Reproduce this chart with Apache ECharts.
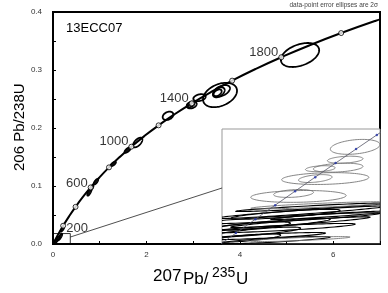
<!DOCTYPE html>
<html>
<head>
<meta charset="utf-8">
<script src="https://cdn.jsdelivr.net/npm/echarts@6/dist/echarts.min.js"></script>
<style>html,body{margin:0;padding:0;background:#fff}#c{width:388px;height:293px}</style>
</head>
<body>
<div id="c"></div>
<script>
// Concordia curve, 0–2200 Ma every 100 Ma: [207Pb/235U, 206Pb/238U]
var concordia = [
  [0,0],[0.1035,0.01563],[0.2177,0.03151],[0.3438,0.04764],[0.4828,0.06402],
  [0.6362,0.08065],[0.8057,0.09754],[0.9926,0.11470],[1.1987,0.13213],[1.4264,0.14982],
  [1.6774,0.16780],[1.9546,0.18605],[2.2603,0.20459],[2.5978,0.22341],[2.9703,0.24254],
  [3.3812,0.26196],[3.8348,0.28168],[4.3348,0.30171],[4.8869,0.32205],[5.4962,0.34271],
  [6.1685,0.36369],[6.9104,0.38500],[7.7291,0.40676]
];
// Concordia age marks (Ma)
var tickAges = [200,400,600,800,1000,1200,1400,1600,1800,2000];
var tickPoints = [
  [0.2177,0.03151],[0.4828,0.06402],[0.8057,0.09754],[1.1987,0.13213],[1.6774,0.16780],
  [2.2603,0.20459],[2.9703,0.24254],[3.8348,0.28168],[4.8869,0.32205],[6.1685,0.36369]
];
var labelledAges = [200,600,1000,1400,1800];
// Analyses: [x, y, 2sigma x, 2sigma y, rho]
var openEllipses = [
  [5.288,0.3259,0.41,0.0207,0.4],
  [3.575,0.2569,0.364,0.021,0.35],
  [3.61,0.264,0.178,0.010,0.45],
  [3.55,0.2615,0.125,0.0086,0.45],
  [3.52,0.2605,0.09,0.006,0.5],
  [3.136,0.2523,0.132,0.0060,0.3],
  [2.969,0.2397,0.107,0.0060,0.3],
  [2.95,0.2405,0.08,0.0045,0.4],
  [2.462,0.221,0.114,0.0072,0.3],
  [1.813,0.175,0.10,0.0083,0.6]
];
var filledEllipses = [
  [1.598,0.162,0.07,0.005,0.7],
  [1.29,0.138,0.06,0.004,0.7],
  [0.92,0.1074,0.05,0.005,0.7],
  [0.83,0.097,0.04,0.005,0.7],
  [0.78,0.090,0.05,0.007,0.7],
  [0.20,0.025,0.04,0.004,0.8],
  [0.15,0.012,0.05,0.006,0.8],
  [0.09,0.008,0.05,0.005,0.8],
  [0.06,0.004,0.04,0.004,0.8]
];
var zoomBox = [[0.37,0.018]];
var connector = [[0.37,0.012],[3.62,0.0966]];
// Inset: young concordia (0–90 Ma every 10 Ma)
var insetConcordia = [
  [0,0],[0.009897,0.0015525],[0.019892,0.0031072],[0.029986,0.0046646],[0.040180,0.0062243],
  [0.050475,0.0077864],[0.060872,0.0093510],[0.071371,0.010918],[0.081975,0.012487],[0.092683,0.014059]
];
var insetTicks = insetConcordia.slice(1, 9);
var insetGrayEllipses = [
  [0.0709,0.01116,0.0127,0.00083,0.3],
  [0.0658,0.00973,0.0091,0.00039,0.3],
  [0.0622,0.00884,0.0127,0.00050,0.3],
  [0.0556,0.00763,0.0223,0.00066,0.2],
  [0.0505,0.00763,0.0086,0.00044,0.4],
  [0.0531,0.00873,0.0076,0.00033,0.3],
  [0.0419,0.00564,0.0244,0.00066,0.15],
  [0.0394,0.00597,0.0102,0.00044,0.3],
  [0.0531,0.00465,0.0356,0.000398,0.832],
  [0.0429,0.00089,0.0254,0.000276,0.8]
];
var insetBlackEllipses = [
  [0.0429,0.00387,0.0432,0.000698,0.949],
  [0.0378,0.00321,0.0457,0.000617,0.894],
  [0.0277,0.00255,0.0305,0.000644,0.857],
  [0.0328,0.00211,0.0381,0.000521,0.848],
  [0.0201,0.00167,0.0229,0.000552,0.8],
  [0.0252,0.00122,0.0305,0.000398,0.832],
  [0.0429,0.00277,0.0356,0.000595,0.928],
  [0.0175,0.00233,0.0203,0.000468,0.707],
  [0.0480,0.00443,0.0381,0.000472,0.937],
  [0.0302,0.00078,0.0279,0.000398,0.832],
  [0.0582,0.00354,0.0305,0.000472,0.937],
  [0.0150,0.00100,0.0178,0.000468,0.707],
  [0.0353,0.00365,0.0279,0.000552,0.8]
];

var FONT = "'Liberation Sans', Arial, sans-serif";

function ellipseRenderer(style) {
  return function (params, api) {
    var cx = api.value(0), cy = api.value(1), sx = api.value(2), sy = api.value(3), r = api.value(4);
    var q = Math.sqrt(1 - r * r);
    var pts = [];
    for (var i = 0; i < 90; i++) {
      var t = i / 90 * 2 * Math.PI;
      pts.push(api.coord([cx + sx * Math.cos(t), cy + sy * (r * Math.cos(t) + q * Math.sin(t))]));
    }
    var cs = params.coordSys;
    return {
      type: 'group',
      clipPath: { type: 'rect', shape: { x: cs.x, y: cs.y, width: cs.width, height: cs.height } },
      children: [{ type: 'polygon', shape: { points: pts }, style: style }]
    };
  };
}

var tickData = tickPoints.map(function (p, i) {
  var age = tickAges[i];
  var item = { value: p };
  if (labelledAges.indexOf(age) >= 0) {
    item.label = {
      show: true, formatter: String(age),
      position: age === 200 ? 'right' : 'left',
      distance: 0,
      offset: age === 200 ? [0, 3] : (age === 600 ? [0, -4] : [0, -5])
    };
  }
  return item;
});

var chart = echarts.init(document.getElementById('c'), null, { renderer: 'canvas' });
chart.setOption({
  animation: false,
  backgroundColor: '#fff',
  grid: [
    { left: 53, top: 12, width: 327, height: 232, show: true, borderColor: '#000', borderWidth: 2, backgroundColor: 'transparent' },
    { left: 222, top: 129, width: 158, height: 115, show: true, borderColor: '#999', borderWidth: 1, backgroundColor: '#fff' }
  ],
  xAxis: [
    {
      gridIndex: 0, type: 'value', min: 0, max: 7, interval: 1,
      axisLine: { lineStyle: { color: '#000', width: 1.5 } },
      axisTick: { inside: true, length: 3, lineStyle: { color: '#000' } },
      splitLine: { show: false },
      axisLabel: {
        color: '#333', fontSize: 8, fontFamily: FONT, margin: 7,
        formatter: function (v) { return v % 2 === 0 ? String(v) : ''; }
      }
    },
    { gridIndex: 1, type: 'value', min: 0.0028, max: 0.0836, show: false }
  ],
  yAxis: [
    {
      gridIndex: 0, type: 'value', min: 0, max: 0.4, interval: 0.05,
      axisLine: { lineStyle: { color: '#000', width: 1.5 } },
      axisTick: { inside: true, length: 3, lineStyle: { color: '#000' } },
      splitLine: { show: false },
      axisLabel: {
        color: '#333', fontSize: 8, fontFamily: FONT, margin: 11,
        formatter: function (v) {
          var k = v * 10;
          return Math.abs(k - Math.round(k)) < 1e-6 ? v.toFixed(1) : '';
        }
      }
    },
    { gridIndex: 1, type: 'value', min: 0.00034, max: 0.01315, show: false }
  ],
  series: [
    {
      type: 'line', xAxisIndex: 0, yAxisIndex: 0, data: concordia, smooth: true,
      showSymbol: false, lineStyle: { color: '#000', width: 2 }, z: 3
    },
    {
      type: 'custom', xAxisIndex: 0, yAxisIndex: 0, data: openEllipses, z: 4,
      renderItem: ellipseRenderer({ fill: 'none', stroke: '#000', lineWidth: 1.8 })
    },
    {
      type: 'custom', xAxisIndex: 0, yAxisIndex: 0, data: filledEllipses, z: 4,
      renderItem: ellipseRenderer({ fill: '#111', stroke: '#000', lineWidth: 1.5 })
    },
    {
      type: 'scatter', xAxisIndex: 0, yAxisIndex: 0, data: tickData, z: 5,
      symbol: 'circle', symbolSize: 5,
      itemStyle: { color: '#fff', borderColor: '#000', borderWidth: 1 },
      label: { show: false, color: '#000', fontSize: 13, fontFamily: FONT }
    },
    {
      type: 'custom', xAxisIndex: 0, yAxisIndex: 0, data: zoomBox, z: 3,
      renderItem: function (params, api) {
        var p0 = api.coord([0, 0]);
        var p1 = api.coord([api.value(0), api.value(1)]);
        return { type: 'rect', shape: { x: p0[0], y: p1[1], width: p1[0] - p0[0], height: p0[1] - p1[1] },
          style: { fill: 'none', stroke: '#000', lineWidth: 0.8 } };
      }
    },
    {
      type: 'line', xAxisIndex: 0, yAxisIndex: 0, data: connector, showSymbol: false,
      lineStyle: { color: '#222', width: 0.8 }, z: 3
    },
    {
      type: 'custom', xAxisIndex: 1, yAxisIndex: 1, data: insetBlackEllipses, z: 6,
      renderItem: ellipseRenderer({ fill: 'none', stroke: '#000', lineWidth: 1.1 })
    },
    {
      type: 'custom', xAxisIndex: 1, yAxisIndex: 1, data: insetGrayEllipses, z: 6,
      renderItem: ellipseRenderer({ fill: 'none', stroke: '#777', lineWidth: 0.9 })
    },
    {
      type: 'line', xAxisIndex: 1, yAxisIndex: 1, data: insetConcordia, showSymbol: false,
      lineStyle: { color: '#556', width: 0.8 }, z: 7
    },
    {
      type: 'scatter', xAxisIndex: 1, yAxisIndex: 1, data: insetTicks, symbol: 'circle', symbolSize: 2.5,
      itemStyle: { color: '#1f2fa8' }, z: 8
    }
  ],
  graphic: [
    { type: 'text', left: 66, top: 22, style: { text: '13ECC07', font: '13px ' + FONT, fill: '#000' } },
    { type: 'text', x: 378, y: 5, style: { text: 'data-point error ellipses are 2σ', font: '6.5px ' + FONT, fill: '#444', align: 'right', verticalAlign: 'middle' } },
    { type: 'text', x: 153, y: 268, style: { text: '207', font: '17px ' + FONT, fill: '#000', verticalAlign: 'top' } },
    { type: 'text', x: 183, y: 271, style: { text: 'Pb/', font: '17px ' + FONT, fill: '#000', verticalAlign: 'top' } },
    { type: 'text', x: 212, y: 266, style: { text: '235', font: '14px ' + FONT, fill: '#000', verticalAlign: 'top' } },
    { type: 'text', x: 236, y: 271, style: { text: 'U', font: '17px ' + FONT, fill: '#000', verticalAlign: 'top' } },
    { type: 'text', x: 12, y: 171, rotation: Math.PI / 2,
      style: { text: '206 Pb/238U', font: '15px ' + FONT, fill: '#000', align: 'left', verticalAlign: 'top' } }
  ]
});
</script>
</body>
</html>
